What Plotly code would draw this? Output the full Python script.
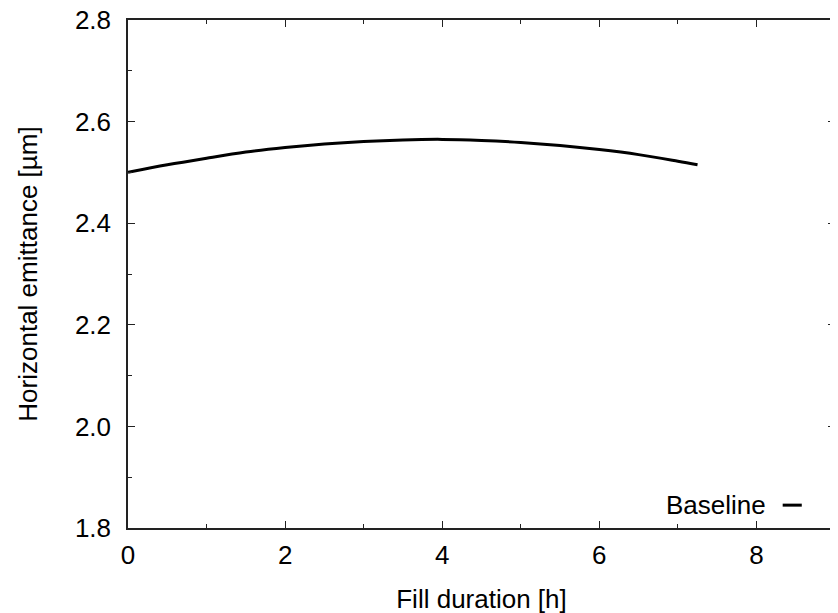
import plotly.graph_objects as go

fill_hours = [0.0, 0.5, 1.0, 1.5, 2.0, 2.5, 3.0, 3.5, 4.0, 4.5, 5.0, 5.5, 6.0, 6.5, 7.0, 7.25]
emittance_um = [2.500, 2.515, 2.528, 2.540, 2.549, 2.556, 2.561, 2.564, 2.565,
                2.563, 2.559, 2.553, 2.545, 2.535, 2.522, 2.515]
series_name = "Baseline"

FONT = "Liberation Sans, Arial, Helvetica, sans-serif"
FS = 26

fig = go.Figure()
fig.add_trace(go.Scatter(x=fill_hours, y=emittance_um, mode="lines", name=series_name,
                         line=dict(color="black", width=3, shape="spline"), showlegend=False))

axis_common = dict(
    showgrid=False, zeroline=False, showline=True, linecolor="#222", linewidth=1.5,
    mirror="ticks", ticks="inside", ticklen=7, tickwidth=1.2, tickcolor="#222",
    tickfont=dict(family=FONT, size=FS, color="black"), ticklabeloverflow="allow",
    automargin=False,
)

fig.update_xaxes(range=[0, 9], tickvals=[0, 2, 4, 6, 8], ticklabelstandoff=3,
                 minor=dict(dtick=1, ticks="inside", ticklen=4, tickcolor="#222", tickwidth=1.2),
                 title=dict(text="Fill duration [h]", font=dict(family=FONT, size=FS, color="black"), standoff=21),
                 **axis_common)
fig.update_yaxes(range=[1.8, 2.8], tickvals=[1.8, 2.0, 2.2, 2.4, 2.6, 2.8], tickformat=".1f",
                 minor=dict(dtick=0.1, tick0=1.8, ticks="inside", ticklen=4, tickcolor="#222", tickwidth=1.2),
                 ticklabelstandoff=10,
                 title=dict(text="Horizontal emittance [µm]", font=dict(family=FONT, size=FS, color="black"), standoff=30),
                 **axis_common)

# legend (text left, line sample right, as in reference)
fig.add_annotation(xref="paper", yref="paper", x=0.905, y=0.045, xanchor="right", yanchor="middle",
                   text=series_name, showarrow=False, font=dict(family=FONT, size=FS, color="black"))
fig.add_shape(type="line", xref="paper", yref="paper", x0=0.926, x1=0.953, y0=0.045, y1=0.045,
              line=dict(color="black", width=3))

fig.update_layout(width=838, height=613, paper_bgcolor="white", plot_bgcolor="white",
                  margin=dict(l=120, r=11, t=12, b=93), showlegend=False)

fig.write_html("out.html")
